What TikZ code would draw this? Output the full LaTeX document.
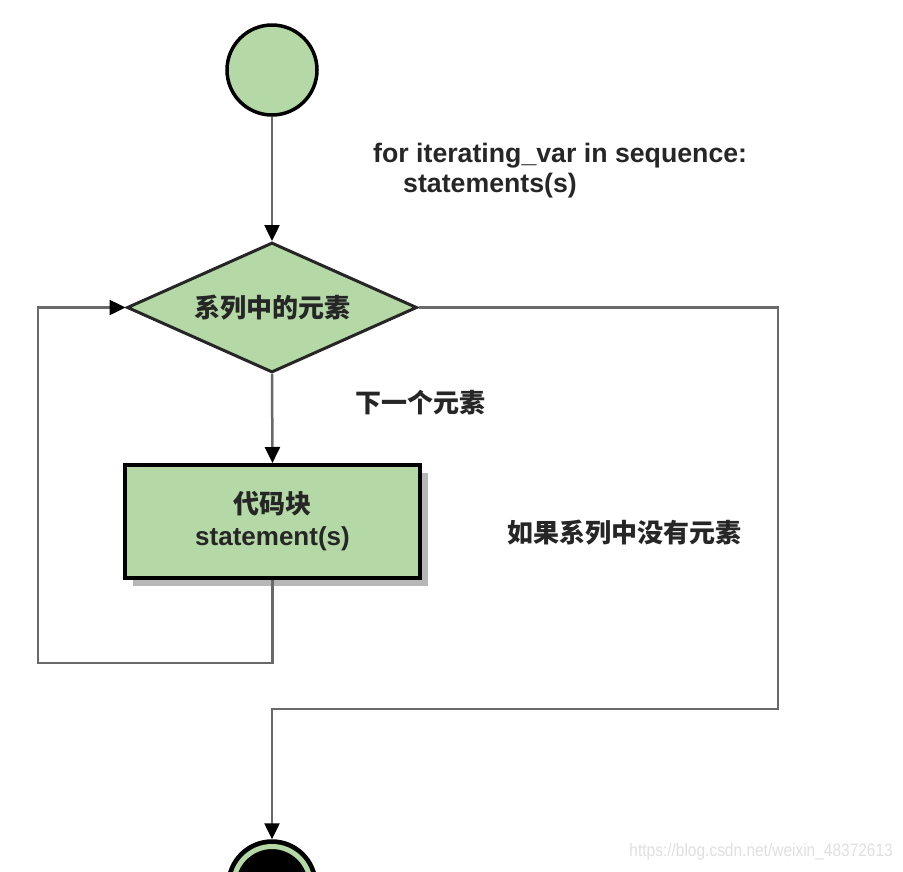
\documentclass[tikz,border=0pt]{standalone}
\usepackage{fontspec}
\setmainfont{Liberation Sans}
\newfontfamily\cjk{Noto Sans CJK SC}
\usetikzlibrary{shapes.geometric,arrows.meta,shadows}
\definecolor{nodegreen}{RGB}{180,216,166}
\definecolor{wire}{RGB}{105,105,105}
\tikzset{
  base/.style={font=\fontsize{26}{32}\selectfont\bfseries, text=black!85},
  startnode/.style={circle, draw=black, line width=3.5pt, fill=nodegreen, minimum size=90pt, inner sep=0pt},
  endnode/.style={circle, draw=black, line width=3.5pt, fill=black, minimum size=88pt, inner sep=0pt},
  decision/.style={base, diamond, aspect=2.23, draw=black!85, line width=3pt, fill=nodegreen, minimum width=290pt, minimum height=130pt, inner sep=0pt},
  block/.style={base, rectangle, draw=black, line width=4pt, fill=nodegreen, minimum width=295pt, minimum height=113pt, align=center,
    drop shadow={shadow xshift=8pt, shadow yshift=-8pt, fill=black!35, opacity=0.8}},
  conn/.style={draw=wire, line width=2.5pt},
  tip/.style={-{Triangle[length=16pt,width=15pt,color=black]}},
  lbl/.style={base, inner sep=0pt, anchor=west},
  codelbl/.style={lbl, font=\fontsize{26.7}{32}\selectfont\bfseries},
  wmark/.style={font=\fontsize{18}{20}\selectfont, text=black!12, inner sep=0pt, anchor=east, xscale=0.86}
}
\begin{document}
\begin{tikzpicture}[x=1pt,y=-1pt]
\useasboundingbox (0,0) rectangle (903,871);
\fill[white] (0,0) rectangle (903,871);

\node[startnode] (start) at (272,70) {};
\node[decision] (dec) at (272,307.5) {\cjk\bfseries 系列中的元素};
\node[block] (blk) at (272.5,521.5) {{\cjk\bfseries 代码块}\\statement(s)};
\node[endnode] (end) at (272,885) {};
\draw[nodegreen, line width=5pt] (end.center) circle (38.5);

\node[codelbl] (code1) at (373,156) {for iterating\_var in sequence:};
\node[codelbl] (code2) at (403,186) {statements(s)};
\node[lbl] (next) at (355,403) {\cjk\bfseries 下一个元素};
\node[lbl] (none) at (507,533) {\cjk\bfseries 如果系列中没有元素};
\node[wmark] (wm) at (893,852) {https://blog.csdn.net/weixin\_48372613};

\coordinate (loopL) at (38,663);
\coordinate (rt) at (778,709);

\draw[conn, tip] (start) -- (dec.north);
\draw[conn, tip] (dec.south) -- (blk.north);
\draw[conn, tip] (blk.south) |- (loopL) |- (dec.west);
\draw[conn, tip] (dec.east) -| (rt) -| (end.north);
\end{tikzpicture}
\end{document}
